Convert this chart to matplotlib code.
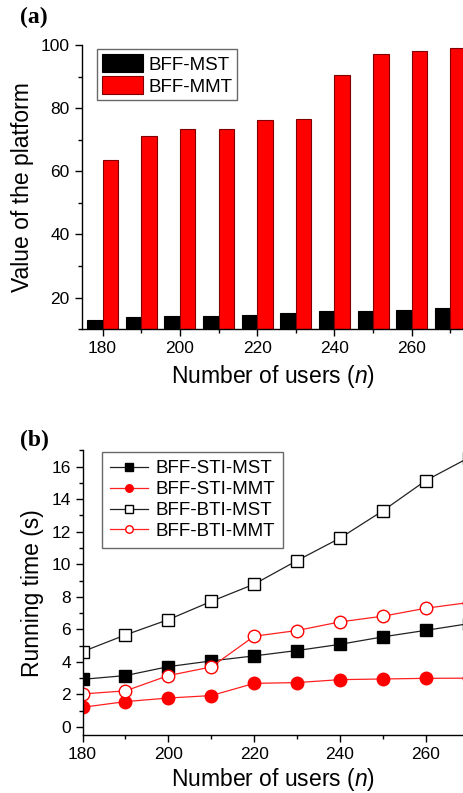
import matplotlib
matplotlib.use("Agg")
import matplotlib.pyplot as plt
import numpy as np
from matplotlib.ticker import MultipleLocator

plt.rcParams['font.family'] = ['Liberation Sans', 'DejaVu Sans']
plt.rcParams['mathtext.fontset'] = 'custom'
plt.rcParams['mathtext.it'] = 'Liberation Sans:italic'

users = [180, 190, 200, 210, 220, 230, 240, 250, 260, 270]

# (a) value of the platform
value_mst = [12.9, 13.8, 14.0, 14.2, 14.4, 15.2, 15.7, 15.7, 16.0, 16.7]
value_mmt = [63.7, 71.3, 73.5, 73.5, 76.4, 76.5, 90.4, 97.2, 98.2, 99.0]

# (b) running time (s)
sti_mst = [2.93, 3.16, 3.71, 4.06, 4.37, 4.70, 5.08, 5.54, 5.94, 6.35]
sti_mmt = [1.21, 1.56, 1.78, 1.93, 2.68, 2.73, 2.91, 2.95, 2.99, 3.00]
bti_mst = [4.63, 5.66, 6.60, 7.72, 8.78, 10.23, 11.61, 13.29, 15.15, 16.55]
bti_mmt = [2.03, 2.22, 3.16, 3.69, 5.58, 5.93, 6.46, 6.81, 7.30, 7.65]

fig = plt.figure(figsize=(4.64, 7.93), dpi=100)


def style_axes(ax):
    ax.spines['top'].set_visible(False)
    ax.spines['right'].set_visible(False)
    ax.tick_params(which='major', direction='out', length=5, width=1, labelsize=12.5)
    ax.tick_params(which='minor', direction='out', length=3, width=1)
    for s in ('left', 'bottom'):
        ax.spines[s].set_linewidth(1)


# top panel: grouped bars
ax1 = fig.add_axes([0.176, 0.585, 0.824, 0.358])
x = np.array(users)
w = 4.0
ax1.bar(x - w / 2, value_mst, w, color='black', edgecolor='black',
        linewidth=0.8, label='BFF-MST')
ax1.bar(x + w / 2, value_mmt, w, color='#ff0000', edgecolor='#800000',
        linewidth=0.8, label='BFF-MMT')
ax1.set_xlim(174.6, 273.5)
ax1.set_ylim(10, 100)
ax1.xaxis.set_major_locator(MultipleLocator(20))
ax1.xaxis.set_minor_locator(MultipleLocator(10))
ax1.yaxis.set_major_locator(MultipleLocator(20))
ax1.yaxis.set_minor_locator(MultipleLocator(10))
style_axes(ax1)
ax1.set_xlabel('Number of users ($n$)', fontsize=16.5, labelpad=5)
ax1.set_ylabel('Value of the platform', fontsize=16.5, labelpad=5)
leg1 = ax1.legend(loc='upper left', bbox_to_anchor=(0.04, 0.985), fontsize=13.5,
                  frameon=True, fancybox=False, edgecolor='#444444',
                  handlelength=2.2, handleheight=1.1, handletextpad=0.3,
                  borderpad=0.25, labelspacing=0.15, borderaxespad=0)
leg1.get_frame().set_linewidth(1)
fig.text(0.043, 0.978, '(a)', fontsize=17, fontweight='bold',
         family='Liberation Serif', va='center')

# bottom panel: running time lines
ax2 = fig.add_axes([0.178, 0.073, 0.822, 0.359])
ax2.plot(users, sti_mst, '-s', color='#222222', mfc='black', mec='black',
         ms=8.5, lw=0.9, label='BFF-STI-MST')
ax2.plot(users, sti_mmt, '-o', color='#ff2020', mfc='#ff0000', mec='#ff0000',
         ms=9, lw=0.9, label='BFF-STI-MMT')
ax2.plot(users, bti_mst, '-s', color='#222222', mfc='white', mec='black',
         ms=8.5, lw=0.9, label='BFF-BTI-MST')
ax2.plot(users, bti_mmt, '-o', color='#ff2020', mfc='white', mec='#ff0000',
         ms=9, lw=0.9, label='BFF-BTI-MMT')
ax2.set_xlim(180, 268.9)
ax2.set_ylim(-0.5, 17)
ax2.xaxis.set_major_locator(MultipleLocator(20))
ax2.xaxis.set_minor_locator(MultipleLocator(10))
ax2.yaxis.set_major_locator(MultipleLocator(2))
ax2.yaxis.set_minor_locator(MultipleLocator(1))
style_axes(ax2)
ax2.set_xlabel('Number of users ($n$)', fontsize=16.5, labelpad=3)
ax2.set_ylabel('Running time (s)', fontsize=16.5, labelpad=5)
leg2 = ax2.legend(loc='upper left', bbox_to_anchor=(0.05, 0.995), fontsize=13.5,
                  frameon=True, fancybox=False, edgecolor='#444444',
                  markerscale=0.6, handlelength=2.0, handletextpad=0.4,
                  borderpad=0.45, labelspacing=0.2, borderaxespad=0)
leg2.get_frame().set_linewidth(1)
fig.text(0.043, 0.445, '(b)', fontsize=17, fontweight='bold',
         family='Liberation Serif', va='center')

fig.savefig('out.png', dpi=100)
